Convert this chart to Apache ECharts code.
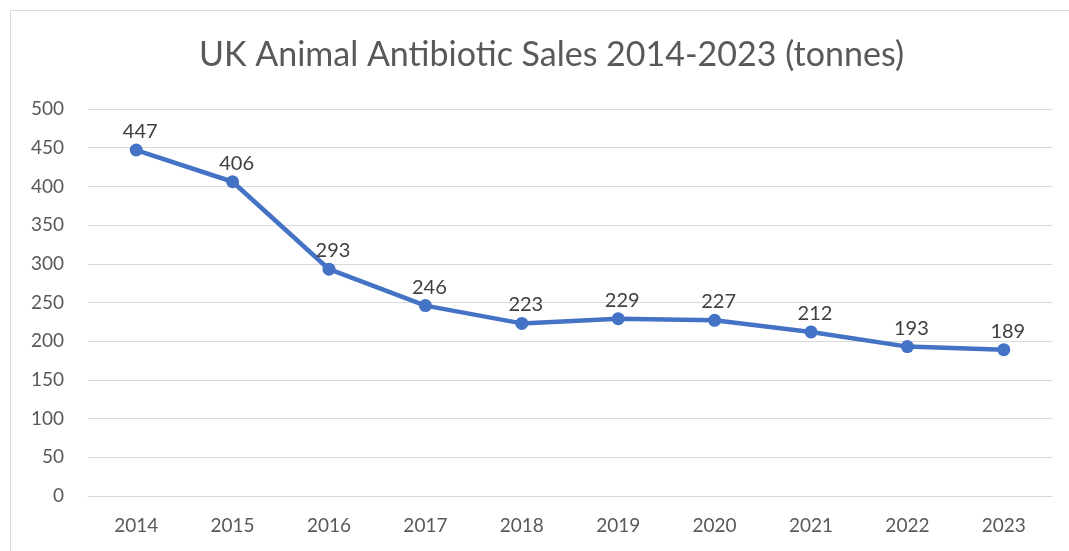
<!DOCTYPE html>
<html>
<head>
<meta charset="utf-8">
<script src="https://cdn.jsdelivr.net/npm/echarts@6/dist/echarts.min.js"></script>
<style>
html, body { margin: 0; padding: 0; background: #fff; }
.frame {
  position: absolute; left: 10px; top: 10px;
  width: 1100px; height: 600px;
  border: 1px solid #d9d9d9; box-sizing: border-box;
}
#chart { position: absolute; left: 0; top: 0; width: 1069px; height: 551px; }
</style>
</head>
<body>
<div class="frame"></div>
<div id="chart"></div>
<script>
// values
const years = ['2014', '2015', '2016', '2017', '2018', '2019', '2020', '2021', '2022', '2023']
const tonnes = [447, 406, 293, 246, 223, 229, 227, 212, 193, 189]

const textColor = '#595959'
const font = 'Lato, "Open Sans", sans-serif'

let myChart = echarts.init(document.getElementById('chart'), null, {renderer: 'canvas'})
let option = {
  animation: false,
  title: {
    text: 'UK Animal Antibiotic Sales 2014-2023 (tonnes)',
    left: 194,
    top: 33,
    textStyle: {
      color: textColor,
      fontFamily: font,
      fontSize: 34,
      fontWeight: 'normal'
    }
  },
  grid: {
    left: 88,
    right: 17,
    top: 109,
    bottom: 55,
    containLabel: false
  },
  xAxis: {
    type: 'category',
    data: years,
    boundaryGap: true,
    axisLine: {show: true, lineStyle: {color: '#d9d9d9', width: 1}},
    axisTick: {show: false},
    axisLabel: {
      color: textColor,
      fontFamily: font,
      fontSize: 19,
      margin: 20
    }
  },
  yAxis: {
    type: 'value',
    min: 0,
    max: 500,
    interval: 50,
    axisLine: {show: false},
    axisTick: {show: false},
    axisLabel: {
      color: textColor,
      fontFamily: font,
      fontSize: 19,
      margin: 24
    },
    splitLine: {lineStyle: {color: '#d9d9d9', width: 1}}
  },
  series: [{
    type: 'line',
    data: tonnes,
    symbol: 'circle',
    symbolSize: 13,
    lineStyle: {color: '#4472c4', width: 4.5},
    itemStyle: {color: '#4472c4'},
    label: {
      show: true,
      position: 'top',
      offset: [4, 1],
      distance: 3,
      color: '#404040',
      fontFamily: font,
      fontSize: 20
    }
  }]
}
myChart.setOption(option)
</script>
</body>
</html>
